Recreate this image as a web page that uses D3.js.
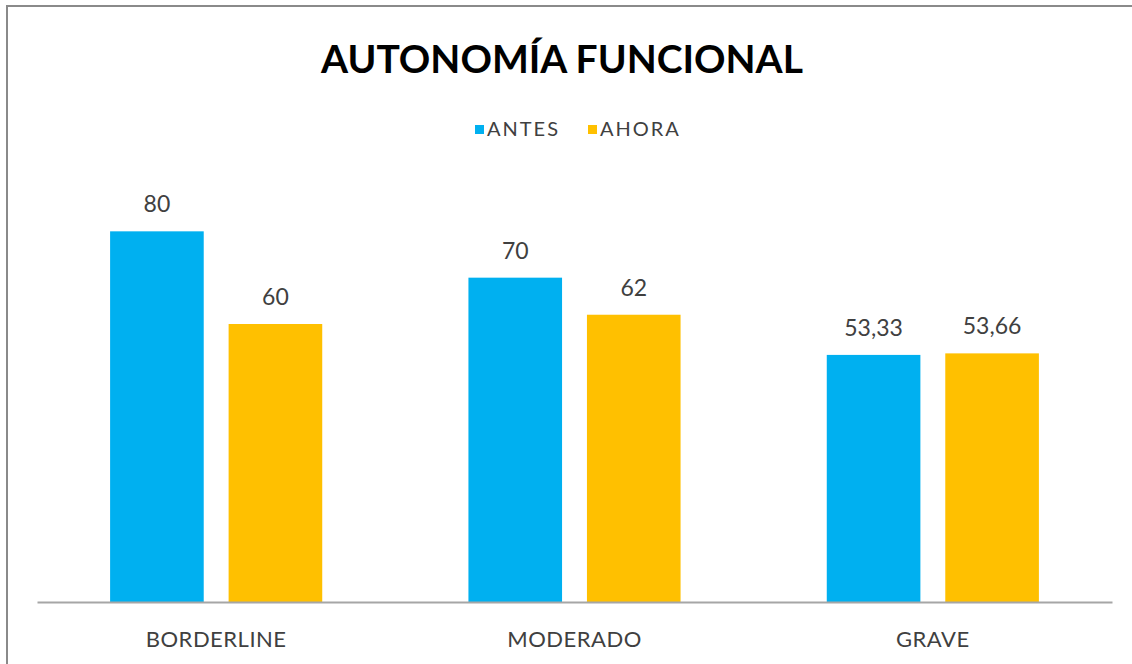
<!DOCTYPE html>
<html>
<head>
<meta charset="utf-8">
<script src="https://cdn.jsdelivr.net/npm/d3@7"></script>
<style>
  body { margin: 0; background: #fff; }
  text { font-family: Lato, "Noto Sans", sans-serif; }
</style>
</head>
<body>
<div id="chart"></div>
<script>
// data
var categories = ["BORDERLINE", "MODERADO", "GRAVE"];
var seriesNames = ["ANTES", "AHORA"];
var antes = [80, 70, 53.33];
var ahora = [60, 62, 53.66];
var colors = ["#00b0f0", "#ffc000"];

var W = 1132, H = 664;
var margin = { top: 185, right: 20, bottom: 62, left: 37 },
  width = W - margin.left - margin.right,
  height = H - margin.top - margin.bottom;

var rows = categories.map(function(c, i) {
  return { cat: c, values: [antes[i], ahora[i]] };
});

var svg = d3.select("#chart").append("svg")
  .attr("width", W)
  .attr("height", H);

svg.append("rect")
  .attr("width", W).attr("height", H)
  .attr("fill", "#fff");

// outer frame (only left and top edges are visible)
svg.append("path")
  .attr("d", "M7," + H + "V6H" + W)
  .attr("fill", "none")
  .attr("stroke", "#8a8a8a")
  .attr("stroke-width", 2);

// title
svg.append("text")
  .attr("x", 562)
  .attr("y", 73)
  .attr("text-anchor", "middle")
  .attr("font-weight", "bold")
  .attr("font-size", 39)
  .attr("fill", "#000")
  .text("AUTONOMÍA FUNCIONAL");

var g = svg.append("g")
  .attr("transform", "translate(" + margin.left + "," + margin.top + ")");

var x0 = d3.scaleBand()
  .domain(categories)
  .range([0, width])
  .paddingInner(0.408)
  .paddingOuter(0.204);

var x1 = d3.scaleBand()
  .domain(d3.range(seriesNames.length))
  .range([0, x0.bandwidth()])
  .paddingInner(0.21);

var y = d3.scaleLinear()
  .domain([0, 90])
  .range([height, 0]);

var loc = d3.formatLocale({ decimal: ",", thousands: ".", grouping: [3], currency: ["", "€"] });
var fmt = loc.format(".2~f");

var groups = g.selectAll(".grp")
  .data(rows)
  .enter().append("g")
  .attr("class", "grp")
  .attr("transform", function(d) { return "translate(" + x0(d.cat) + ",0)"; });

groups.selectAll("rect")
  .data(function(d) { return d.values; })
  .enter().append("rect")
  .attr("x", function(d, i) { return x1(i); })
  .attr("y", function(d) { return y(d); })
  .attr("width", x1.bandwidth())
  .attr("height", function(d) { return height - y(d); })
  .attr("fill", function(d, i) { return colors[i]; });

groups.selectAll(".val")
  .data(function(d) { return d.values; })
  .enter().append("text")
  .attr("class", "val")
  .attr("x", function(d, i) { return x1(i) + x1.bandwidth() / 2; })
  .attr("y", function(d) { return y(d) - 19; })
  .attr("text-anchor", "middle")
  .attr("font-size", 23)
  .attr("fill", "#404040")
  .text(function(d) { return fmt(d); });

// category axis
var xAxis = g.append("g")
  .attr("transform", "translate(0," + height + ")")
  .call(d3.axisBottom(x0).tickSize(0).tickPadding(29).tickSizeOuter(0));

xAxis.select(".domain")
  .attr("stroke", "#a6a6a6")
  .attr("stroke-width", 2);

xAxis.selectAll("text")
  .attr("font-family", "Lato, 'Noto Sans', sans-serif")
  .attr("font-size", 22)
  .attr("letter-spacing", 0.5)
  .attr("fill", "#404040");

// legend
var legendX = [475, 588];
var legend = svg.selectAll(".leg")
  .data(seriesNames)
  .enter().append("g")
  .attr("class", "leg")
  .attr("transform", function(d, i) { return "translate(" + legendX[i] + ",125)"; });

legend.append("rect")
  .attr("width", 9).attr("height", 9)
  .attr("fill", function(d, i) { return colors[i]; });

legend.append("text")
  .attr("x", 12)
  .attr("y", 11)
  .attr("font-size", 20)
  .attr("letter-spacing", 2)
  .attr("fill", "#404040")
  .text(function(d) { return d; });
</script>
</body>
</html>
